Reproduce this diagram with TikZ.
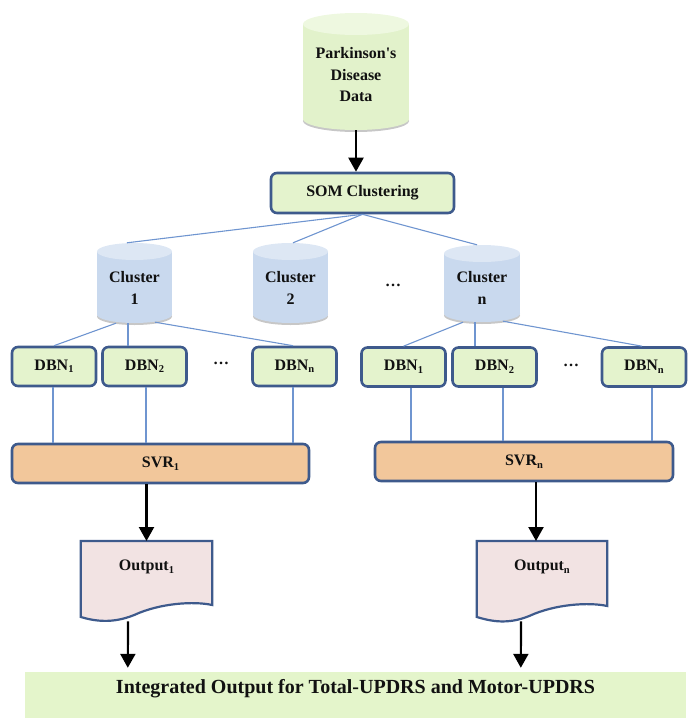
\documentclass[tikz,border=0pt]{standalone}
\usepackage{fontspec}
\setmainfont{Liberation Serif}
\usetikzlibrary{arrows.meta,calc}
\definecolor{bord}{HTML}{3E5A8C}
\definecolor{boxgreen}{HTML}{E4F3CD}
\definecolor{botgreen}{HTML}{E4F5CB}
\definecolor{pdbody}{HTML}{E2F2CB}
\definecolor{pdtop}{HTML}{EEF8E0}
\definecolor{clbody}{HTML}{C9D9EE}
\definecolor{cltop}{HTML}{DDE7F4}
\definecolor{svrfill}{HTML}{F2C79B}
\definecolor{outfill}{HTML}{F2E3E3}
\definecolor{connblue}{HTML}{6F95D0}
\definecolor{txt}{HTML}{111111}
\newcommand\mysub[1]{\raisebox{-2.5pt}{\fontsize{10.5}{10}\selectfont #1}}
\newcommand\mycyl[7]{%
  \fill[black!22] (#1,#3-#5+2) ellipse [x radius=#4pt, y radius=#5pt];
  \fill[#6] (#1-#4,#2+#5) rectangle (#1+#4,#3-#5);
  \fill[#6] (#1,#3-#5) ellipse [x radius=#4pt, y radius=#5pt];
  \fill[#7] (#1,#2+#5) ellipse [x radius=#4pt, y radius=#5pt];
}
\tikzset{
  lbl/.style={font=\bfseries\fontsize{16}{21.5}\selectfont, text=txt, align=center, inner sep=0pt},
  box/.style={lbl, draw=bord, line width=2.6pt, rounded corners=6pt, fill=boxgreen},
  dbnbox/.style={box, minimum width=84pt, minimum height=39pt},
  svrbox/.style={box, fill=svrfill, minimum height=39pt},
  ghost/.style={inner sep=0pt, draw=none},
  conn/.style={draw=connblue, line width=1.1pt},
  arr/.style={draw=black, line width=2.2pt, -{Triangle[width=15pt,length=14pt]}},
  dots/.style={lbl},
}
\begin{document}
\begin{tikzpicture}[x=1pt,y=-1pt]
\useasboundingbox (0,0) rectangle (699,728);

% Parkinson's data cylinder
\mycyl{356}{13}{130}{53}{11}{pdbody}{pdtop}
\node[ghost, minimum width=106pt, minimum height=117pt] (pd) at (356,71.5) {};
\node[lbl] (pdt) at (356,75) {Parkinson\textquotesingle s\\Disease\\Data};

% SOM
\node[box, minimum width=183pt, minimum height=40pt] (som) at (362.5,193) {SOM Clustering};
\draw[arr] (pd.south) -- (pd.south |- som.north);

% clusters
\mycyl{134.5}{243}{323}{37.5}{8.5}{clbody}{cltop}
\mycyl{290.5}{243}{323}{37.5}{8.5}{clbody}{cltop}
\mycyl{482}{245}{322}{38}{8.5}{clbody}{cltop}
\node[ghost, minimum width=75pt, minimum height=80pt] (c1) at (134.5,283) {};
\node[ghost, minimum width=75pt, minimum height=80pt] (c2) at (290.5,283) {};
\node[ghost, minimum width=76pt, minimum height=77pt] (cn) at (482,283.5) {};
\node[lbl] (c1t) at (134.5,288) {Cluster\\1};
\node[lbl] (c2t) at (290.5,288) {Cluster\\2};
\node[lbl] (cnt) at (482,288) {Cluster\\n};
\node[dots] (dm) at (393,285) {…};

\draw[conn] (som.south) -- ($(c1.north)+(-7.5,0)$);
\draw[conn] (som.south) -- ($(c2.north)+(2.5,0)$);
\draw[conn] (som.south) -- ($(cn.north)+(-5,0)$);

% left DBN group
\node[dbnbox] (l1) at (54,366.5) {DBN\mysub{1}};
\node[dbnbox] (l2) at (144.5,366.5) {DBN\mysub{2}};
\node[dbnbox] (ln) at (294.5,366.5) {DBN\mysub{n}};
\node[dots] (dl) at (221,363) {…};
\draw[conn] ($(c1.south)+(-18.5,0)$) -- (l1.north);
\draw[conn] ($(c1.south)+(-6.5,0)$) -- ($(l2.north)+(-16.5,0)$);
\draw[conn] ($(c1.south)+(20.5,-1)$) -- ($(ln.north)+(-1.5,0)$);

\node[svrbox, minimum width=297pt] (s1) at (160.5,463.5) {SVR\mysub{1}};
\draw[conn] ($(l1.south)+(-1,0)$) -- ($(l1.south |- s1.north)+(-1,0)$);
\draw[conn] ($(l2.south)+(1.5,0)$) -- ($(l2.south |- s1.north)+(1.5,0)$);
\draw[conn] ($(ln.south)+(-1.5,0)$) -- ($(ln.south |- s1.north)+(-1.5,0)$);

% right DBN group
\node[dbnbox] (r1) at (403.5,367) {DBN\mysub{1}};
\node[dbnbox] (r2) at (494.5,367) {DBN\mysub{2}};
\node[dbnbox] (rn) at (644,367) {DBN\mysub{n}};
\node[dots] (dr) at (571,365) {…};
\draw[conn] ($(cn.south)+(-19,0)$) -- (r1.north);
\draw[conn] ($(cn.south)+(-7,0)$) -- ($(r2.north)+(-19.5,0)$);
\draw[conn] ($(cn.south)+(21,-1)$) -- ($(rn.north)+(-2,0)$);

\node[svrbox, minimum width=298pt] (sn) at (524,461.5) {SVR\mysub{n}};
\draw[conn] ($(r1.south)+(7.5,0)$) -- ($(r1.south |- sn.north)+(7.5,0)$);
\draw[conn] ($(r2.south)+(8.5,0)$) -- ($(r2.south |- sn.north)+(8.5,0)$);
\draw[conn] ($(rn.south)+(8,0)$) -- ($(rn.south |- sn.north)+(8,0)$);

% outputs
\node[ghost, minimum width=131pt, minimum height=81pt, anchor=north] (o1) at (146.5,541) {};
\fill[outfill, draw=bord, line width=2.2pt]
  (o1.north west) -- (o1.north east) -- ($(o1.north east)+(0,64)$)
  .. controls ($(o1.north east)+(-18,-4+64)$) and ($(o1.north east)+(-52,-2+64)$) .. ($(o1.north east)+(-78,10+64)$)
  .. controls ($(o1.north east)+(-100,19+64)$) and ($(o1.north east)+(-118,80)$) .. ($(o1.north west)+(0,76)$)
  -- cycle;
\node[lbl] (o1t) at (146.5,567) {Output\mysub{1}};

\node[ghost, minimum width=130pt, minimum height=81pt, anchor=north] (on) at (542,541) {};
\fill[outfill, draw=bord, line width=2.2pt]
  (on.north west) -- (on.north east) -- ($(on.north east)+(0,65)$)
  .. controls ($(on.north east)+(-18,-4+65)$) and ($(on.north east)+(-52,-2+65)$) .. ($(on.north east)+(-78,10+65)$)
  .. controls ($(on.north east)+(-100,19+65)$) and ($(on.north east)+(-117,80)$) .. ($(on.north west)+(0,76)$)
  -- cycle;
\node[lbl] (ont) at (542,567) {Output\mysub{n}};

\draw[arr] (o1.north |- s1.south) -- (o1.north);
\draw[arr] ($(on.north |- sn.south)+(-6,0)$) -- ($(on.north)+(-6,0)$);

% bottom box
\node[fill=botgreen, minimum width=661pt, minimum height=46pt, inner sep=0pt] (fin) at (355.5,695) {};
\node[lbl, font=\bfseries\fontsize{20}{24}\selectfont] (fint) at (355.5,689) {Integrated Output for Total-UPDRS and Motor-UPDRS};

\draw[arr] ($(o1.south)+(-18.5,-1)$) -- ($(fin.north west)+(103,-4)$);
\draw[arr] ($(on.south)+(-21,-1)$) -- ($(fin.north west)+(496,-4)$);
\end{tikzpicture}
\end{document}
